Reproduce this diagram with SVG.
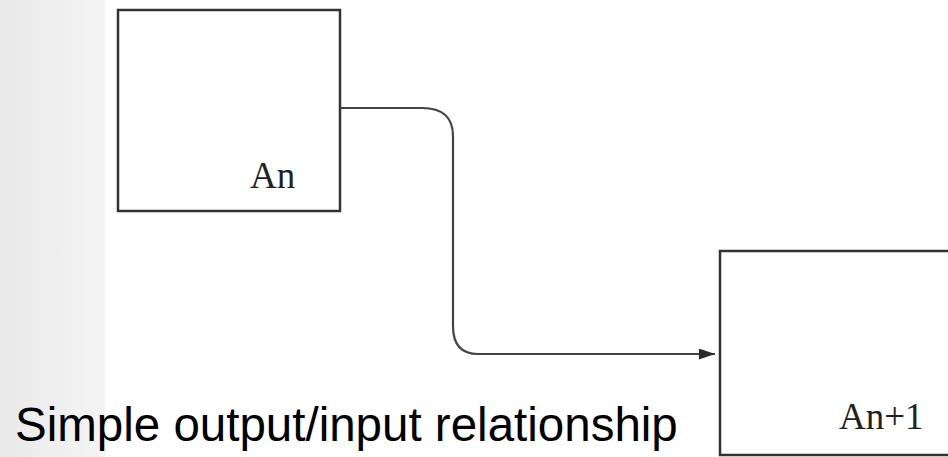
<svg xmlns="http://www.w3.org/2000/svg" width="948" height="457" viewBox="0 0 948 457">
<defs>
<linearGradient id="strip" x1="0" y1="0" x2="1" y2="0">
<stop offset="0" stop-color="#e9e9e9"/>
<stop offset="1" stop-color="#f4f4f4"/>
</linearGradient>
<marker id="arrow" markerWidth="16" markerHeight="11" refX="16" refY="5.5" orient="auto" markerUnits="userSpaceOnUse">
<path d="M0,0 L16,5.5 L0,11 Z" fill="#2a2a2a"/>
</marker>
<style>
.box{fill:#fff;stroke:#333;stroke-width:2.5}
.lbl{font-family:"Liberation Serif","DejaVu Serif",serif;font-size:37px;fill:#222}
.conn{fill:none;stroke:#444;stroke-width:2.2}
.cap{font-family:"Liberation Sans",Arial,sans-serif;font-size:47.5px;fill:#000}
</style>
</defs>
<rect x="0" y="0" width="948" height="457" fill="#fff"/>
<rect x="0" y="0" width="105" height="457" fill="url(#strip)"/>
<g id="connectors">
<path class="conn" d="M340,108 H422 Q453,108 453,136 V326 Q453,354 478,354 H715" marker-end="url(#arrow)"/>
</g>
<g id="node-An">
<rect class="box" x="118" y="10" width="222" height="201"/>
<text class="lbl" x="250" y="188">An</text>
</g>
<g id="node-An1">
<rect class="box" x="720" y="251" width="240" height="204"/>
<text class="lbl" x="839" y="429">An+1</text>
</g>
<text class="cap" x="15" y="441">Simple output/input relationship</text>
</svg>
